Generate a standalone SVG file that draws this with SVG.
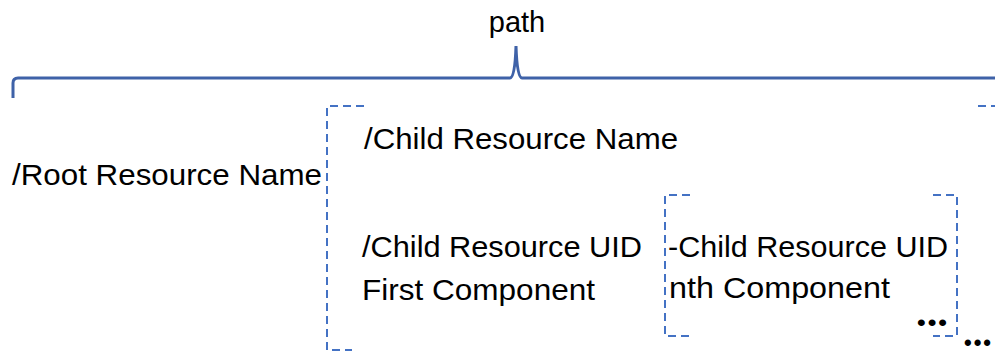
<svg xmlns="http://www.w3.org/2000/svg" width="995" height="352" viewBox="0 0 995 352">
<style>
.t{font-family:"Liberation Sans",Arial,sans-serif;font-size:29px;fill:#000}
.d{font-family:"Liberation Serif","Times New Roman",serif;font-size:40px;font-weight:bold;fill:#000}
.br{fill:none;stroke:#4472C4;stroke-width:2;stroke-dasharray:8 5}
.brace{fill:none;stroke:#3f62a8;stroke-width:3}
</style>
<rect width="995" height="352" fill="#fff"/>
<g id="connectors">
<path class="brace" d="M13 98 V83 Q13 78 18 78 H510 Q515 78 516 46 Q517 78 522 78 H1000"/>
</g>
<g id="path-label"><text class="t" x="517" y="32" text-anchor="middle" font-size="30">path</text></g>
<g id="root"><text class="t" x="12" y="185" textLength="310" lengthAdjust="spacingAndGlyphs">/Root Resource Name</text></g>
<g id="outer-bracket">
<path class="br" d="M364 106 H327 V350 H352"/>
<path class="br" d="M978 106 H996 V350"/>
</g>
<g id="child-name"><text class="t" x="364" y="149" textLength="314" lengthAdjust="spacingAndGlyphs">/Child Resource Name</text></g>
<g id="child-uid-first">
<text class="t" x="362" y="257" textLength="280" lengthAdjust="spacingAndGlyphs">/Child Resource UID</text>
<text class="t" x="362" y="300" textLength="233" lengthAdjust="spacingAndGlyphs">First Component</text>
</g>
<g id="child-uid-nth">
<path class="br" d="M690 195 H665 V336 H690"/>
<path class="br" d="M933 195 H957 V336 H933"/>
<text class="t" x="668" y="257" textLength="280" lengthAdjust="spacingAndGlyphs">-Child Resource UID</text>
<text class="t" x="669" y="298" textLength="221" lengthAdjust="spacingAndGlyphs">nth Component</text>
<text class="d" x="916" y="326" textLength="32" lengthAdjust="spacingAndGlyphs">...</text>
</g>
<g id="more"><text class="d" x="963" y="346" textLength="29" lengthAdjust="spacingAndGlyphs">...</text></g>
</svg>
